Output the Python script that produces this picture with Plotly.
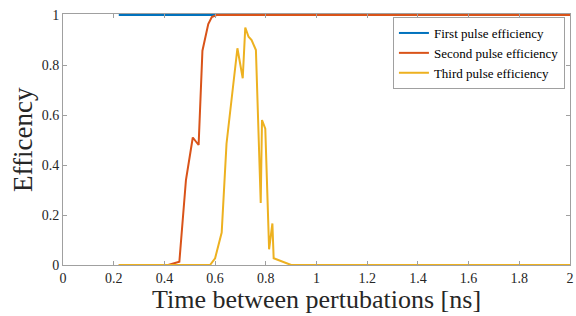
import plotly.graph_objects as go

first_x = [0.22, 2.0]
first_y = [1.0, 1.0]

second_x = [0.22, 0.415, 0.459, 0.485, 0.512, 0.535, 0.55, 0.573, 0.587, 0.606, 2.0]
second_y = [0.0, 0.0, 0.013, 0.34, 0.51, 0.48, 0.857, 0.964, 0.992, 1.0, 1.0]

third_x = [0.22, 0.58, 0.60, 0.626, 0.645, 0.688, 0.709, 0.719, 0.732, 0.744, 0.761,
           0.78, 0.785, 0.798, 0.813, 0.826, 0.831, 0.90, 2.0]
third_y = [0.0, 0.0, 0.027, 0.13, 0.485, 0.867, 0.747, 0.95, 0.913, 0.90, 0.86,
           0.248, 0.58, 0.545, 0.063, 0.166, 0.027, 0.0, 0.0]

x_ticks = [0, 0.2, 0.4, 0.6, 0.8, 1, 1.2, 1.4, 1.6, 1.8, 2]
x_tick_labels = ["0", "0.2", "0.4", "0.6", "0.8", "1", "1.2", "1.4", "1.6", "1.8", "2"]
y_ticks = [0, 0.2, 0.4, 0.6, 0.8, 1]
y_tick_labels = ["0", "0.2", "0.4", "0.6", "0.8", "1"]

FONT = "Liberation Serif"

fig = go.Figure()
fig.add_trace(go.Scatter(x=first_x, y=first_y, mode="lines", name="First pulse efficiency",
                         line=dict(color="#0072BD", width=2)))
fig.add_trace(go.Scatter(x=second_x, y=second_y, mode="lines", name="Second pulse efficiency",
                         line=dict(color="#D95319", width=2)))
fig.add_trace(go.Scatter(x=third_x, y=third_y, mode="lines", name="Third pulse efficiency",
                         line=dict(color="#EDB120", width=2)))

axis_common = dict(showgrid=False, zeroline=False, showline=True, linecolor="#a0a0a0",
                   linewidth=1, mirror="ticks", ticks="inside", ticklen=4,
                   tickcolor="#a0a0a0", automargin=False, ticklabeloverflow="allow",
                   tickfont=dict(family=FONT, size=14, color="#262626"))

fig.update_xaxes(range=[0, 2], tickvals=x_ticks, ticktext=x_tick_labels, **axis_common)
fig.update_yaxes(range=[0, 1.004], tickvals=y_ticks, ticktext=y_tick_labels, **axis_common)

fig.update_layout(
    width=576, height=316,
    margin=dict(l=63, r=6, t=14, b=51),
    plot_bgcolor="white", paper_bgcolor="white",
    font=dict(family=FONT, color="#262626"),
    showlegend=True,
    legend=dict(x=0.99, y=0.988, xanchor="right", yanchor="top",
                bgcolor="white", bordercolor="#a0a0a0", borderwidth=1,
                font=dict(family=FONT, size=13, color="#000000"),
                tracegroupgap=0, itemwidth=30),
    annotations=[
        dict(text="Time between pertubations [ns]", xref="paper", yref="paper",
             x=0.5, y=-0.139, xanchor="center", yanchor="middle", showarrow=False,
             font=dict(family=FONT, size=26, color="#262626")),
        dict(text="Efficency", xref="paper", yref="paper",
             x=-0.08, y=0.5, xanchor="center", yanchor="middle", showarrow=False,
             textangle=-90, font=dict(family=FONT, size=27, color="#262626")),
    ],
)

fig.write_html("out.html",
               config={"displayModeBar": False},
               post_script="document.body.style.margin='0px'; document.body.style.overflow='hidden';")
